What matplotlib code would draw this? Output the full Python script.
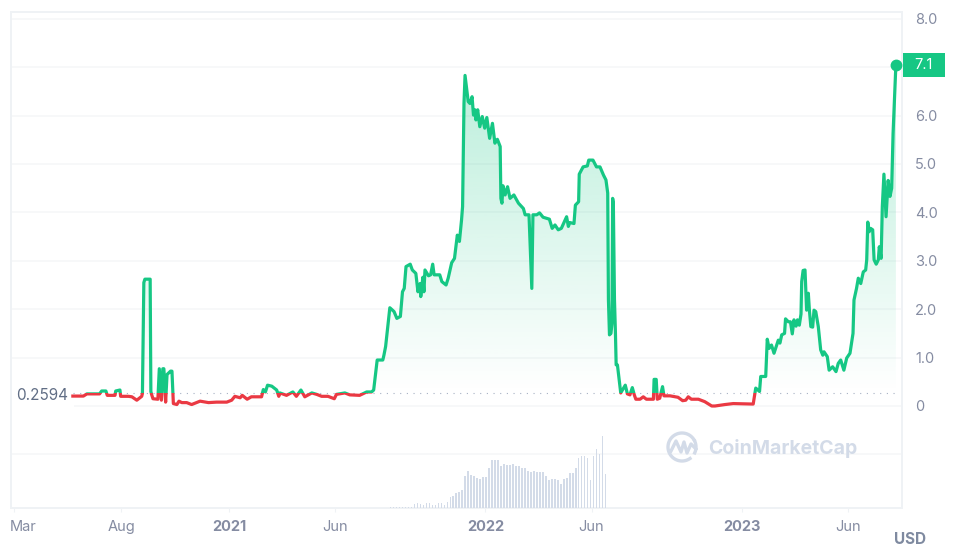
import numpy as np
import pandas as pd
import matplotlib
matplotlib.use('Agg')
import matplotlib.pyplot as plt
from matplotlib.patches import Rectangle
from matplotlib.transforms import ScaledTranslation

plt.rcParams['font.family'] = ['Inter', 'DejaVu Sans']

#%% Data: days counted from 2021-01-01, price in USD
start = pd.Timestamp('2021-01-01')

days = [-222, -207, -202, -184, -181, -175, -173, -162, -161, -155, -154, -143, -138, -131, -124, -123,
        -121, -119.5, -112, -111, -110, -108, -101, -99, -96, -94, -92.5, -90, -88, -83, -81, -79,
        -74, -71, -67, -60, -53, -41, -29, -17.5, -3, 4, 8.5, 16, 19, 26, 32, 46.5, 49, 52, 55, 61,
        68, 71, 72.6, 82, 91, 96, 102.5, 108, 118, 125, 132, 141, 150, 153, 165, 172, 186, 196, 203,
        206, 211, 219, 220.6, 223, 225, 229, 235, 239, 244, 247, 249.5, 252, 258, 261, 266, 269, 272,
        273, 276, 277.5, 279, 284, 287, 290, 292, 300, 303, 309, 312, 317, 321, 325, 328, 331, 332.5,
        334.5, 336, 340.5, 343, 346, 348, 350, 351.5, 354, 357, 360.5, 364, 367, 371, 375, 378.5, 382,
        386, 387, 388.5, 390, 393, 396.5, 400, 405.5, 412, 419, 421.5, 427, 431, 432.6, 438, 442, 447,
        456, 460, 464, 468.6, 473, 480.5, 483, 485, 491, 493, 497.6, 498.5, 504, 510, 512, 518, 523,
        528, 533, 536.5, 539, 540, 541.5, 543.6, 545, 546, 547, 548.6, 550, 551, 552.8, 557.5, 560,
        564, 567, 570.6, 574, 576.8, 579, 585, 589.6, 594, 604, 605, 608, 609.5, 613, 617, 619, 627.6,
        639, 645.6, 650, 653.6, 658, 668, 677, 687, 691.6, 705.8, 717.6, 746, 749.6, 755, 756.7, 763.8,
        766, 768.6, 772, 775.6, 781.7, 784, 786.6, 790.6, 792, 796, 799, 801.6, 804, 807, 809, 811.6,
        814, 815, 817, 819.7, 822, 824.4, 826, 828, 830.6, 832.5, 835, 838.6, 842, 845, 846.7, 851.4,
        854, 859, 863.8, 867, 870.5, 875, 879, 883.7, 888, 889.4, 893, 895.5, 899, 902.6, 906, 907.5,
        909, 911, 913, 916, 918, 921, 924, 925.4, 928, 929.7, 932, 935, 938, 940.6, 943, 945, 949]

prices = [.205, .205, .25, .25, .31, .31, .22, .22, .31, .33, .2, .2, .19, .12, .2, .26,
          2.55, 2.62, 2.62, .3, .24, .15, .14, .77, .12, .77, .77, .08, .65, .72, .72, .05,
          .03, .1, .07, .07, .03, .1, .07, .08, .08, .12, .2, .17, .22, .14, .19, .19, .34, .29, .43, .41,
          .33, .2, .27, .22, .29, .2, .33, .19, .27, .24, .2, .2, .15, .24, .27, .23, .22, .29, .29,
          .33, .95, .95, 1.05, 1.23, 1.5, 2.03, 1.95, 1.81, 1.85, 2.36, 2.43, 2.88, 2.93, 2.81, 2.74, 2.36, 2.53,
          2.26, 2.66, 2.36, 2.81, 2.69, 2.71, 2.93, 2.71, 2.71, 2.57, 2.5, 2.64, 2.96, 3.05, 3.53, 3.4, 3.84, 4.12,
          6.25, 6.83, 6.29, 6.25, 6.39, 6.01, 6.12, 5.91, 6.12, 5.77, 5.98, 5.74, 5.96, 5.53, 5.84, 5.43, 5.51,
          5.36, 4.29, 4.19, 4.55, 4.36, 4.53, 4.29, 4.36, 4.19, 4.08, 3.95, 3.95, 2.43, 3.95, 3.95, 3.99, 3.9,
          3.86, 3.67, 3.74, 3.64, 3.67, 3.91, 3.71, 3.79, 3.77, 4.15, 4.22, 4.79, 4.94, 4.96, 5.08, 5.08, 4.94,
          4.94, 4.77, 4.67, 4.4, 2.2, 1.47, 1.5, 1.7, 4.29, 4.2, 2.2, 1.5, .85, .85, .27, .33,
          .43, .25, .23, .38, .23, .14, .14, .19, .14, .14, .55, .55, .14, .16, .4, .21, .21,
          .18, .11, .12, .19, .14, .14, .09, 0, 0, .03, .05, .04, .37, .3, .61, .61,
          1.38, 1.19, 1.26, 1.09, 1.36, 1.3, 1.47, 1.5, 1.8, 1.74, 1.74, 1.49, 1.78, 1.65, 1.78, 1.67,
          1.9, 2.57, 2.8, 2.81, 1.98, 2.33, 1.97, 1.64, 1.63, 1.98, 1.95, 1.64, 1.16, 1.05, 1.12, 1.02,
          .74, .81, .71, .88, .95, .74, .99, 1.09, 1.5, 2.19, 2.43, 2.64, 2.53, 2.77, 2.81, 3.02,
          3.8, 3.6, 3.67, 3.64, 3.02, 2.93, 3.02, 3.29, 3.05, 4.12, 4.79, 3.91, 4.66, 4.33, 4.5, 5.63, 7.05]

base_price = 0.2594

# volume bars, relative heights
volume = [3, 3, 3, 3, 1, 1, 3, 3, 12, 14, 12, 8, 14, 15, 9, 8, 13, 15, 9, 16, 32, 36, 45, 46, 52,
          95, 110, 98, 94, 90, 85, 92, 92, 118, 142, 143, 142, 125, 130, 128, 128, 130, 125, 124,
          120, 118, 110, 108, 110, 108, 108, 108, 95, 82, 85, 85, 84, 70, 85, 88, 105, 105, 118,
          150, 155, 155, 150, 82, 155, 175, 160, 215, 100]

tick_dates = ['2020-03-01', '2020-08-01', '2021-01-01', '2021-06-01',
              '2022-01-01', '2022-06-01', '2023-01-01', '2023-06-01']
tick_names = ['Mar', 'Aug', '2021', 'Jun', '2022', 'Jun', '2023', 'Jun']
y_ticks = [-1, 0, 1, 2, 3, 4, 5, 6, 7, 8]
# 7.0 sits under the last price tag, so it stays blank
y_names = ['', '0', '1.0', '2.0', '3.0', '4.0', '5.0', '6.0', '', '8.0']

#%% Figure
green = '#16c784'
red = '#ea3943'
grey = '#858ca2'

dates = start + pd.to_timedelta(days, unit='D')
x = matplotlib.dates.date2num(dates)
y = np.array(prices)

fig = plt.figure(figsize=(9.7, 5.55), dpi=100, facecolor='w')
pos = [11/970, 1 - 507.5/555, 891/970, 495.5/555]
ax = fig.add_axes(pos)
x0 = matplotlib.dates.date2num(start - pd.Timedelta(days=310))
x1 = matplotlib.dates.date2num(start + pd.Timedelta(days=957.7))
y0, y1 = -2.097, 8.14
ax.set_xlim(x0, x1)
ax.set_ylim(y0, y1)

for s in ax.spines.values():
    s.set_color('#eff2f5')
    s.set_linewidth(1.4)

ax.yaxis.tick_right()
ax.set_yticks(y_ticks)
ax.set_yticklabels(y_names, fontsize=10.5, color=grey)
ax.tick_params(axis='y', length=0, pad=9.5)
ax.grid(axis='y', color='#f5f6f8', lw=1.1, zorder=0)
ax.set_axisbelow(True)

ax.set_xticks(matplotlib.dates.date2num(pd.to_datetime(tick_dates)))
ax.set_xticklabels(tick_names, fontsize=10.5, color=grey)
ax.tick_params(axis='x', length=3, width=0.8, color='#eff2f5', pad=6)
for lab in ax.get_xticklabels():
    if lab.get_text().startswith('20'):
        lab.set_fontweight('bold')
first = ax.get_xticklabels()[0]
first.set_transform(first.get_transform() + ScaledTranslation(9/100, 0, fig.dpi_scale_trans))

# gradient under the green part
fill = ax.fill_between(x, np.maximum(y, base_price), base_price, color='none', lw=0)
grad = np.zeros((256, 1, 4))
grad[..., :3] = matplotlib.colors.to_rgb(green)
grad[:, 0, 3] = np.linspace(0.3, 0, 256)
im = ax.imshow(grad, extent=[x0, x1, base_price, 7.05], aspect='auto', zorder=1.5)
im.set_clip_path(fill.get_paths()[0], ax.transData)
ax.set_xlim(x0, x1)
ax.set_ylim(y0, y1)

# start price label hides the grid behind it
ax.text(x0 + 8, base_price - 0.04, '0.2594', fontsize=11, color='#616e85', ha='left', va='center',
        zorder=1.8, bbox=dict(fc='w', ec='none', pad=3.5))

# line, green above the start price and red below
up, = ax.plot(x, y, color=green, lw=2.3, solid_joinstyle='round', zorder=3)
down, = ax.plot(x, y, color=red, lw=2.3, solid_joinstyle='round', zorder=3)
up.set_clip_path(Rectangle((x0, base_price), x1 - x0, y1 - base_price, transform=ax.transData))
down.set_clip_path(Rectangle((x0, y0), x1 - x0, base_price - y0, transform=ax.transData))

ax.plot(x[-1], y[-1], 'o', color=green, ms=7.5, zorder=4, clip_on=False)
ax.plot([x[0], x[-1]], [base_price, base_price], color='#a6b0c3', lw=0.8,
        ls=(0, (1, 5)), zorder=2)

# volume on its own overlay, twinx would send the price labels back to the left
ax2 = fig.add_axes(pos)
ax2.set_xlim(x0, x1)
ax2.set_ylim(0, 1486.5)
ax2.set_axis_off()
bar_dates = pd.date_range('2021-08-19', periods=len(volume), freq='102h')
ax2.bar(matplotlib.dates.date2num(bar_dates), volume, width=2.2, color='#d3dbe8', lw=0)

# last price tag
fig.patches.append(Rectangle((903/970, 1 - 77/555), 42/970, 24.5/555, transform=fig.transFigure,
                             fc=green, ec='none'))
fig.text(923.5/970, 1 - 65/555, '7.1', color='w', fontsize=10.5, ha='center', va='center')
fig.text(910/970, 1 - 539/555, 'USD', color='#7f8aa0', fontsize=11, fontweight='bold',
         ha='center', va='center')

# watermark
mark = '#d3dbe8'
fig.text(708/970, 1 - 448/555, 'CoinMarketCap', color=mark, fontsize=14, fontweight='bold',
         ha='left', va='center')
logo = fig.add_axes([666/970, 1 - 463/555, 32/970, 32/555])
logo.set_xlim(-16, 16)
logo.set_ylim(-16, 16)
logo.axis('off')
t = np.radians(np.linspace(30, 305, 60))
logo.plot(14*np.cos(t), 14*np.sin(t), color=mark, lw=2.4)
t = np.radians(np.linspace(-25, 25, 12))
logo.plot(14*np.cos(t), 14*np.sin(t), color=mark, lw=2.4)
logo.plot([-11, -6, -1, 2, 5, 9, 14], [-4, 6, -5, 5, -6, 3, -2], color=mark, lw=2.4,
          solid_joinstyle='round')

fig.savefig('out.png', dpi=100, facecolor='w')
